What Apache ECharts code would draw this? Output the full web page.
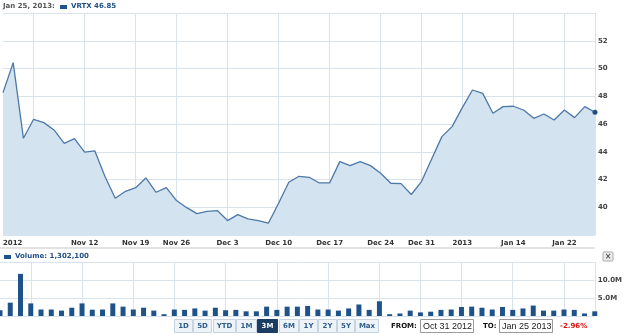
<!DOCTYPE html>
<html>
<head>
<meta charset="utf-8">
<script src="https://cdn.jsdelivr.net/npm/echarts@6/dist/echarts.min.js"></script>
<style>
html,body{margin:0;padding:0;background:#fff;}
#chart{width:625px;height:335px;}
</style>
</head>
<body>
<div id="chart"></div>
<script>
// ---- data ----
var dates = ["Oct 31","Nov 1","Nov 2","Nov 5","Nov 6","Nov 7","Nov 8","Nov 9","Nov 12","Nov 13","Nov 14","Nov 15","Nov 16","Nov 19","Nov 20","Nov 21","Nov 23","Nov 26","Nov 27","Nov 28","Nov 29","Nov 30","Dec 3","Dec 4","Dec 5","Dec 6","Dec 7","Dec 10","Dec 11","Dec 12","Dec 13","Dec 14","Dec 17","Dec 18","Dec 19","Dec 20","Dec 21","Dec 24","Dec 26","Dec 27","Dec 28","Dec 31","Jan 2","Jan 3","Jan 4","Jan 7","Jan 8","Jan 9","Jan 10","Jan 11","Jan 14","Jan 15","Jan 16","Jan 17","Jan 18","Jan 22","Jan 23","Jan 24","Jan 25"];
var prices = [48.26,50.42,44.97,46.34,46.10,45.57,44.61,44.95,43.98,44.06,42.20,40.65,41.15,41.41,42.11,41.08,41.41,40.48,39.97,39.54,39.70,39.76,39.04,39.47,39.16,39.04,38.85,40.29,41.80,42.23,42.16,41.75,41.75,43.29,43.00,43.29,43.00,42.45,41.73,41.70,40.92,41.85,43.48,45.09,45.81,47.18,48.45,48.21,46.77,47.25,47.28,47.01,46.41,46.72,46.29,47.01,46.46,47.25,46.85];
var volumes = [1600000,3700000,11700000,3500000,1800000,1800000,1500000,2300000,3500000,1750000,1800000,3500000,2600000,1800000,2300000,1500000,500000,1800000,1700000,2100000,1500000,2300000,1600000,1700000,1300000,1300000,2600000,1700000,2600000,2600000,2800000,1800000,1800000,1500000,2100000,3200000,1700000,4100000,500000,700000,1500000,1000000,1200000,1700000,1800000,2500000,2600000,2300000,1800000,2500000,1700000,2100000,2900000,1500000,1500000,1800000,1700000,700000,1302100];
var tickDates = ["Oct 31","Nov 12","Nov 19","Nov 26","Dec 3","Dec 10","Dec 17","Dec 24","Dec 31","Jan 7","Jan 14","Jan 22"];
var tickLabels = ["2012","Nov 12","Nov 19","Nov 26","Dec 3","Dec 10","Dec 17","Dec 24","Dec 31","2013","Jan 14","Jan 22"];
var gridDates = ["Nov 5","Nov 12","Nov 19","Nov 26","Dec 3","Dec 10","Dec 17","Dec 24","Dec 31","Jan 7","Jan 14","Jan 22","Jan 25"];
var rangeButtons = ["1D","5D","YTD","1M","3M","6M","1Y","2Y","5Y","Max"];
var headerDate = "Jan 25, 2013:";
var headerQuote = "VRTX 46.85";
var volumeLegend = "Volume: 1,302,100";
var fromDate = "Oct 31 2012";
var toDate = "Jan 25 2013";
var changeText = "-2.96%";

// ---- chart ----
var GRID = '#d8e3ec';
var BOLD7 = 'bold 7px "DejaVu Sans"';
var chart = echarts.init(document.getElementById('chart'), null, {renderer:'canvas'});

function isGrid(i){ return gridDates.indexOf(dates[i]) >= 0; }
function isTick(i){ return tickDates.indexOf(dates[i]) >= 0; }

var btnX = [174,193,213,236,257,279,299,318,337,355];
var btnW = [18,18,22,20,20,19,18,18,17,23];
var graphics = [];
// header
graphics.push({type:'text', left:3, top:3, style:{text:headerDate, font:BOLD7, fill:'#555'}});
graphics.push({type:'rect', shape:{x:60,y:5,width:7,height:4}, style:{fill:'#1f5289'}});
graphics.push({type:'text', left:71, top:3, style:{text:headerQuote, font:BOLD7, fill:'#1f4e85'}});
// watermark
graphics.push({type:'text', left:4, top:225, style:{text:'\u00a9 2013 Yahoo! Inc.', font:'7px "DejaVu Sans"', fill:'#b8c8d6'}});
// separator band
graphics.push({type:'rect', shape:{x:0,y:247,width:595,height:2}, style:{fill:'#e2e2e2'}});
// volume legend
graphics.push({type:'rect', shape:{x:4,y:255,width:7,height:4}, style:{fill:'#1f5289'}});
graphics.push({type:'text', left:15, top:253, style:{text:volumeLegend, font:BOLD7, fill:'#1f4e85'}});
// close button
graphics.push({type:'rect', shape:{x:603,y:252,width:10,height:9,r:1}, style:{fill:'#eeeeee', stroke:'#a9a9a9', lineWidth:1}});
graphics.push({type:'text', x:608, y:256.5, style:{text:'\u00d7', font:'bold 8px "DejaVu Sans"', fill:'#555', align:'center', verticalAlign:'middle'}});
// range buttons
for (var b = 0; b < rangeButtons.length; b++) {
  var sel = rangeButtons[b] === '3M';
  graphics.push({type:'rect', shape:{x:btnX[b]+0.5,y:319.5,width:btnW[b],height:13}, style:{fill: sel ? '#1c3d63' : '#eef3f8', stroke: sel ? '#1c3d63' : '#c6d3e0', lineWidth:1}});
  graphics.push({type:'text', x:btnX[b]+0.5+btnW[b]/2, y:326.5, style:{text:rangeButtons[b], font:BOLD7, fill: sel ? '#ffffff' : '#2d5c8c', align:'center', verticalAlign:'middle'}});
}
// from / to
graphics.push({type:'text', x:391, y:326, style:{text:'FROM:', font:BOLD7, fill:'#111', verticalAlign:'middle'}});
graphics.push({type:'rect', shape:{x:420.5,y:319.5,width:53,height:13}, style:{fill:'#fff', stroke:'#9a9a9a', lineWidth:1}});
graphics.push({type:'text', x:423, y:326.5, style:{text:fromDate, font:'9px "Liberation Sans"', fill:'#222', verticalAlign:'middle'}});
graphics.push({type:'text', x:483, y:326, style:{text:'TO:', font:BOLD7, fill:'#111', verticalAlign:'middle'}});
graphics.push({type:'rect', shape:{x:499.5,y:319.5,width:53,height:13}, style:{fill:'#fff', stroke:'#9a9a9a', lineWidth:1}});
graphics.push({type:'text', x:502, y:326.5, style:{text:toDate, font:'9px "Liberation Sans"', fill:'#222', verticalAlign:'middle'}});
graphics.push({type:'text', x:560, y:326, style:{text:changeText, font:BOLD7, fill:'#e01010', verticalAlign:'middle'}});

var option = {
  animation:false,
  backgroundColor:'#ffffff',
  grid:[
    {left:0, right:30, top:13, height:222},
    {left:0, right:30, top:262, height:54}
  ],
  xAxis:[
    {type:'category', gridIndex:0, data:dates, boundaryGap:false,
     axisLine:{show:false}, axisTick:{show:false},
     splitLine:{show:true, interval:function(i){return isGrid(i);}, lineStyle:{color:GRID, width:1}},
     axisLabel:{interval:function(i){return isTick(i);}, formatter:function(v){var k=tickDates.indexOf(v);return k>=0?tickLabels[k]:'';},
       font:BOLD7, fontFamily:'DejaVu Sans', fontWeight:'bold', fontSize:7, color:'#333', margin:5, alignMinLabel:'left', showMinLabel:true}
    },
    {type:'category', gridIndex:1, data:dates, boundaryGap:false,
     axisLine:{show:false}, axisTick:{show:false}, axisLabel:{show:false},
     splitLine:{show:true, interval:function(i){return isGrid(i);}, lineStyle:{color:GRID, width:1}}
    }
  ],
  yAxis:[
    {type:'value', gridIndex:0, position:'right', min:38, max:54, interval:2,
     axisLine:{show:false}, axisTick:{show:false},
     splitLine:{show:true, lineStyle:{color:GRID, width:1}},
     axisLabel:{showMinLabel:false, showMaxLabel:false, margin:3, fontFamily:'DejaVu Sans', fontWeight:'bold', fontSize:7, color:'#444'}
    },
    {type:'value', gridIndex:1, position:'right', min:0, max:15000000, interval:5000000,
     axisLine:{show:false}, axisTick:{show:false},
     splitLine:{show:true, lineStyle:{color:GRID, width:1}},
     axisLabel:{showMinLabel:false, showMaxLabel:false, margin:3, fontFamily:'DejaVu Sans', fontWeight:'bold', fontSize:7, color:'#444',
       formatter:function(v){return (v/1000000).toFixed(1)+'M';}}
    }
  ],
  series:[
    {type:'line', xAxisIndex:0, yAxisIndex:0, data:prices,
     showSymbol:true, showAllSymbol:true, symbol:'circle',
     symbolSize:function(v, p){ return p.dataIndex === prices.length-1 ? 5 : 0; },
     itemStyle:{color:'#1f4e85'},
     lineStyle:{color:'#4d78a8', width:1.3},
     areaStyle:{color:'#d3e3f0', opacity:1},
     z:3},
    {type:'bar', xAxisIndex:1, yAxisIndex:1, data:volumes, barWidth:5,
     itemStyle:{color:'#1f5289'}}
  ],
  graphic:graphics
};
chart.setOption(option);
</script>
</body>
</html>
